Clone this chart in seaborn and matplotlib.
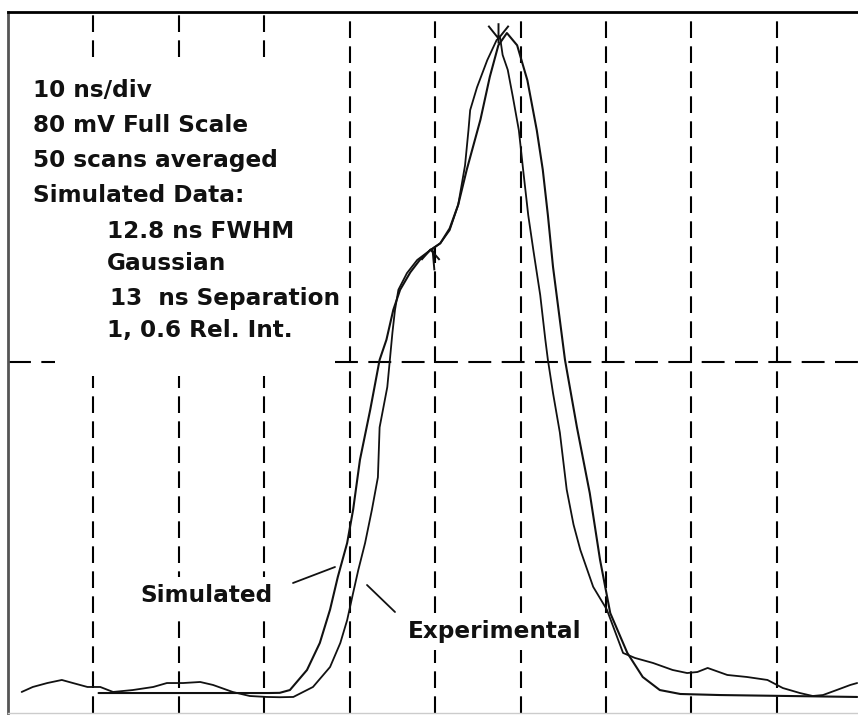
import matplotlib
matplotlib.use("Agg")
import matplotlib.pyplot as plt
from matplotlib.path import Path
from matplotlib.lines import Line2D
import pandas as pd
import seaborn as sns

# ---------------- data (time in ns, signal in mV) ----------------
sim_t = [10.6, 22.5, 30.5, 31.8, 33.0, 35.0, 36.5, 37.7, 38.6, 39.7, 40.4, 41.2,
         42.4, 43.5, 44.3, 45.1, 45.9, 47.1, 48.2, 49.4, 50.6, 51.7, 52.7, 53.7,
         55.3, 56.4, 57.4, 58.4, 59.6, 60.8, 61.9, 62.6, 63.2, 63.8, 65.2, 66.6,
         68.1, 69.3, 70.5, 72.5, 74.3, 76.3, 78.7, 83.3, 99.4]
sim_v = [2.28, 2.28, 2.28, 2.30, 2.62, 4.91, 7.99, 11.8, 15.5, 19.4, 23.2, 28.9,
         34.6, 40.3, 42.6, 46.0, 48.3, 50.3, 51.7, 52.8, 53.6, 55.3, 58.0, 62.0,
         67.7, 72.6, 76.2, 77.6, 76.2, 72.2, 66.5, 62.0, 56.8, 50.9, 40.3, 32.6,
         25.1, 17.5, 11.4, 6.85, 4.11, 2.62, 2.17, 2.05, 1.83]

exp_t = [1.6, 2.9, 4.6, 6.3, 7.6, 9.3, 10.8, 12.3, 14.6, 17.0, 18.6, 20.5,
         22.5, 24.0, 26.3, 28.3, 30.3, 31.8, 33.4, 35.7, 37.7, 38.9, 39.7, 40.4,
         41.0, 41.8, 42.6, 43.3, 43.5, 44.4, 44.7, 45.0, 45.3, 45.7, 46.7, 47.9,
         49.4, 50.6, 51.7, 52.7, 53.5, 53.9, 54.1, 54.9, 56.1, 57.2, 57.6, 57.9,
         58.5, 59.1, 59.8, 60.3, 60.9, 61.5, 62.3, 62.9, 63.2, 63.8, 64.6, 65.4,
         66.2, 67.0, 68.5, 70.1, 72.0, 73.4, 75.5, 77.8, 79.5, 80.7, 81.9, 84.2,
         86.5, 88.9, 90.7, 92.7, 94.2, 95.4, 97.0, 98.6, 99.4]
exp_v = [2.40, 2.97, 3.42, 3.77, 3.42, 2.97, 2.97, 2.40, 2.62, 2.97, 3.42, 3.42,
         3.54, 3.20, 2.40, 1.94, 1.83, 1.80, 1.83, 2.97, 5.25, 7.99, 10.6, 13.7,
         16.3, 19.4, 23.2, 26.9, 32.6, 37.2, 40.3, 43.4, 46.0, 48.3, 50.2, 51.7,
         52.8, 53.6, 55.1, 58.0, 62.5, 66.5, 68.8, 71.4, 74.5, 76.8, 77.1, 75.1,
         73.4, 70.3, 66.5, 62.0, 56.8, 52.8, 47.7, 42.6, 40.3, 36.5, 32.0, 25.5,
         21.5, 18.6, 14.4, 11.8, 6.85, 6.28, 5.71, 4.91, 4.56, 4.68, 5.14, 4.34,
         4.11, 3.77, 2.85, 2.28, 1.94, 2.05, 2.62, 3.20, 3.42]

cursor_t = [57.4, 49.4]
cursor_v = [77.0, 53.0]

grid_t = [10, 20, 30, 40, 50, 60, 70, 80, 90]
grid_mid = 40

info_lines = ["10 ns/div", "80 mV Full Scale", "50 scans averaged", "Simulated Data:",
              "12.8 ns FWHM", "Gaussian", "13  ns Separation", "1, 0.6 Rel. Int."]
sim_label = "Simulated"
exp_label = "Experimental"

# ---------------- figure ----------------
sns.set_theme(style="white")
plt.rcParams["font.family"] = ["DejaVu Sans"]

W, H = 858, 715
fig = plt.figure(figsize=(W / 100, H / 100), dpi=100)
fig.patch.set_facecolor("white")
ax = fig.add_axes([8 / W, 2 / H, 850 / W, 701 / H])
ax.set_xlim(0, 99.5)
ax.set_ylim(0, 80)
ax.set_xticks([])
ax.set_yticks([])
ax.spines["right"].set_visible(False)
ax.spines["top"].set_color("black")
ax.spines["top"].set_linewidth(2.0)
ax.spines["left"].set_color("#555555")
ax.spines["left"].set_linewidth(2.0)
ax.spines["bottom"].set_color("#cccccc")
ax.spines["bottom"].set_linewidth(1.0)

vdash = (0, (8, 4))
hdash = (0, (11, 5))
for t in grid_t:
    if t < 40:
        ax.vlines(t, 74.9, 80, colors="black", linestyles=vdash, lw=1.5, zorder=1)
        ax.vlines(t, 0, 38.5, colors="black", linestyles=vdash, lw=1.5, zorder=1)
    else:
        ax.vlines(t, 0, 80, colors="black", linestyles=vdash, lw=1.5, zorder=1)
ax.hlines(grid_mid, 0, 5.5, colors="black", linestyles=hdash, lw=1.5, zorder=1)
ax.hlines(grid_mid, 38.3, 99.5, colors="black", linestyles=hdash, lw=1.5, zorder=1)

df_sim = pd.DataFrame({"t": sim_t, "v": sim_v})
df_exp = pd.DataFrame({"t": exp_t, "v": exp_v})
sns.lineplot(data=df_sim, x="t", y="v", ax=ax, color="#111111", lw=1.5,
             estimator=None, sort=False, zorder=4)
sns.lineplot(data=df_exp, x="t", y="v", ax=ax, color="#111111", lw=1.3,
             estimator=None, sort=False, zorder=4)
ax.set_xlabel("")
ax.set_ylabel("")

down_marker = Path([(-0.8, 1.0), (0, 0), (0.8, 1.0), (0, 1.2), (0, -0.4)],
                   [Path.MOVETO, Path.LINETO, Path.LINETO, Path.MOVETO, Path.LINETO])
up_marker = Path([(-0.7, -0.8), (0, 0), (0.7, -0.8), (0.15, 0.1), (0.3, -1.6)],
                 [Path.MOVETO, Path.LINETO, Path.LINETO, Path.MOVETO, Path.LINETO])
ax.plot(cursor_t[0], cursor_v[0], marker=down_marker, ms=22, mew=1.4,
        mec="#111111", mfc="none", ls="none", zorder=5)
ax.plot(cursor_t[1], cursor_v[1], marker=up_marker, ms=30, mew=1.4,
        mec="#111111", mfc="none", ls="none", zorder=5)

# ---------------- texts ----------------
def fx(px):
    return px / W

def fy(py):
    return 1 - py / H

tx = [33, 33, 33, 33, 107, 107, 110, 107]
ty = [97, 132, 167, 202, 238, 270, 305, 337]
for s, x, y in zip(info_lines, tx, ty):
    fig.text(fx(x), fy(y), s, fontsize=16.7, fontweight="bold", color="#111111",
             ha="left", va="baseline", zorder=6)

box = dict(facecolor="white", edgecolor="none", pad=5)
fig.text(fx(140), fy(602), sim_label, fontsize=16.7, fontweight="bold",
         color="#111111", ha="left", va="baseline", bbox=box, zorder=6)
fig.text(fx(408), fy(638), exp_label, fontsize=16.7, fontweight="bold",
         color="#111111", ha="left", va="baseline", bbox=box, zorder=6)

fig.add_artist(Line2D([fx(293), fx(335)], [fy(583), fy(567)], color="#111111",
                      lw=1.3, transform=fig.transFigure, zorder=7))
fig.add_artist(Line2D([fx(367), fx(395)], [fy(585), fy(612)], color="#111111",
                      lw=1.3, transform=fig.transFigure, zorder=7))

fig.savefig("out.png", dpi=100, facecolor="white")
